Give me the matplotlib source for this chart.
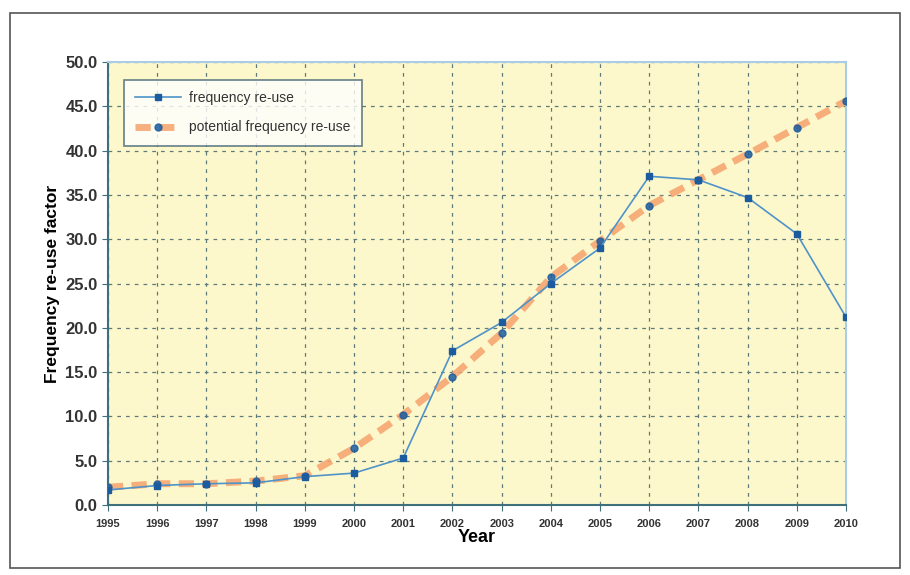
import matplotlib
import matplotlib.pyplot as plt
from matplotlib.patches import Rectangle

matplotlib.use('Agg')

plt.rcParams['font.family'] = ['Liberation Sans Narrow', 'Liberation Sans', 'DejaVu Sans']

# Data
years = [1995, 1996, 1997, 1998, 1999, 2000, 2001, 2002,
         2003, 2004, 2005, 2006, 2007, 2008, 2009, 2010]
reuse = [1.7, 2.2, 2.4, 2.5, 3.2, 3.6, 5.3, 17.4,
         20.6, 25.0, 29.0, 37.1, 36.7, 34.7, 30.6, 21.2]
potential = [2.0, 2.4, 2.4, 2.7, 3.3, 6.4, 10.2, 14.5,
             19.4, 25.7, 29.8, 33.8, 36.7, 39.6, 42.6, 45.6]
y_ticks = [0, 5, 10, 15, 20, 25, 30, 35, 40, 45, 50]

blue_line = '#4f93c9'
blue_mark = '#1c5c9e'
orange = '#f5a36c'
grid_col = '#5f7a7a'

fig = plt.figure(figsize=(9.1, 5.75), dpi=100)
fig.patch.set_facecolor('white')

# outer frame
fig.patches.append(Rectangle((0.011, 0.012), 0.978, 0.965, transform=fig.transFigure,
                             fill=False, edgecolor='#555555', linewidth=1.2))

ax = fig.add_axes([108 / 910, 1 - 505 / 575, (846 - 108) / 910, (505 - 62) / 575])
ax.set_facecolor('#fdf8cc')

ax.plot(years, potential, color=orange, linewidth=5, linestyle=(0, (2.2, 1.2)),
        alpha=0.85, marker='o', markersize=5, markerfacecolor=blue_mark,
        markeredgecolor=blue_mark, label='potential frequency re-use', zorder=3)
ax.plot(years, reuse, color=blue_line, linewidth=1.2, marker='s', markersize=5,
        markerfacecolor=blue_mark, markeredgecolor=blue_mark,
        label='frequency re-use', zorder=4)

ax.set_xlim(1995, 2010)
ax.set_ylim(0, 50)
ax.set_xticks(years)
ax.set_xticklabels([str(y) for y in years])
ax.set_yticks(y_ticks)
ax.set_yticklabels([f'{v:.1f}' for v in y_ticks])

ax.grid(True, color=grid_col, linestyle=(0, (3, 4)), linewidth=0.9)
ax.set_axisbelow(True)

for side in ['left', 'bottom']:
    ax.spines[side].set_color('#3f6f7a')
    ax.spines[side].set_linewidth(1.5)
for side in ['top', 'right']:
    ax.spines[side].set_color('#a9cde6')
    ax.spines[side].set_linewidth(1.5)

ax.tick_params(axis='x', labelsize=8, length=4, color='#3f6f7a', pad=6)
ax.tick_params(axis='y', labelsize=12, length=4, color='#3f6f7a')
for lab in ax.get_xticklabels() + ax.get_yticklabels():
    lab.set_fontweight('bold')
    lab.set_color('#333333')

ax.set_xlabel('Year', fontsize=13, fontweight='bold', labelpad=0)
ax.set_ylabel('Frequency re-use factor', fontsize=12.5, fontweight='bold', labelpad=4)

handles, labels = ax.get_legend_handles_labels()
leg = ax.legend(handles[::-1], labels[::-1], loc='upper left',
                bbox_to_anchor=(0.012, 0.975), fontsize=10, frameon=True,
                fancybox=False, handlelength=3.3, borderpad=0.8, labelspacing=1.1,
                handletextpad=0.6)
leg.get_frame().set_edgecolor('#3f5f6f')
leg.get_frame().set_linewidth(1.2)
leg.get_frame().set_facecolor('white')
for text in leg.get_texts():
    text.set_color('#333333')

plt.savefig('out.png', dpi=100, facecolor=fig.get_facecolor())
plt.close()
